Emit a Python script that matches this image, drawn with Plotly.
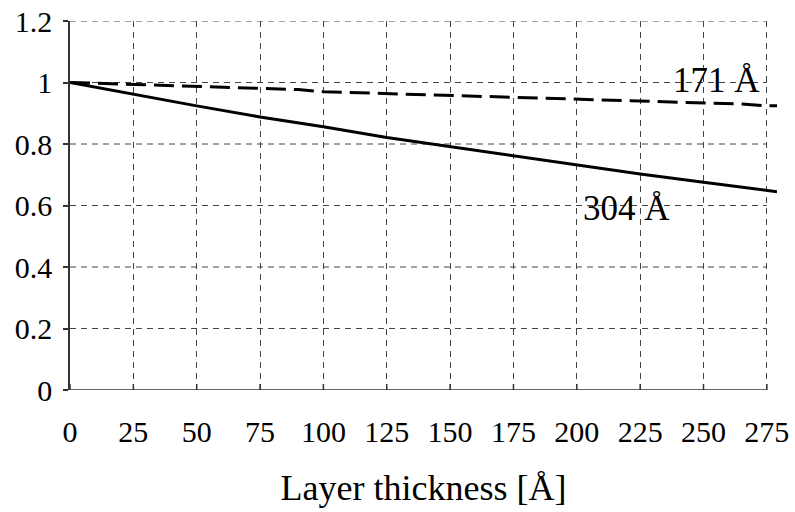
import plotly.graph_objects as go

# Data
x_304 = [0, 25, 50, 75, 100, 125, 150, 175, 200, 225, 250, 275, 279]
y_304 = [1.0, 0.961, 0.924, 0.888, 0.856, 0.821, 0.7915, 0.760, 0.731, 0.7026, 0.6755, 0.649, 0.645]

x_171 = [0, 25, 50, 75, 90, 100, 125, 150, 175, 200, 225, 250, 265, 275, 279]
y_171 = [1.0, 0.994, 0.989, 0.982, 0.977, 0.970, 0.964, 0.959, 0.951, 0.946, 0.940, 0.933, 0.930, 0.924, 0.924]

x_ticks = [0, 25, 50, 75, 100, 125, 150, 175, 200, 225, 250, 275]
y_ticks = [0, 0.2, 0.4, 0.6, 0.8, 1.0, 1.2]
y_ticktext = ["0", "0.2", "0.4", "0.6", "0.8", "1", "1.2"]

labels = [("171 Å", 255.2, 1.006), ("304 Å", 219.7, 0.59)]

FONT = "Liberation Serif"
GRID = "#444444"

fig = go.Figure()
fig.add_trace(go.Scatter(x=x_304, y=y_304, mode="lines",
                         line=dict(color="black", width=3), showlegend=False))
fig.add_trace(go.Scatter(x=x_171, y=y_171, mode="lines",
                         line=dict(color="black", width=3, dash="20px,8px"), showlegend=False))

shapes = []
for yv in y_ticks[1:]:
    shapes.append(dict(type="line", xref="x", yref="y", x0=0, x1=x_ticks[-1], y0=yv, y1=yv,
                       line=dict(color=GRID, width=1, dash="6px,5px"), layer="below"))
shapes.append(dict(type="line", xref="x", yref="y", x0=0, x1=x_ticks[-1], y0=0, y1=0,
                   line=dict(color="#333333", width=1.5)))
for xv in x_ticks:
    shapes.append(dict(type="line", xref="x", yref="y", xsizemode="scaled", ysizemode="pixel",
                       yanchor=0, x0=xv, x1=xv, y0=-6, y1=6,
                       line=dict(color="#333333", width=1.5)))

annotations = [dict(x=lx, y=ly, xref="x", yref="y", text=t, showarrow=False,
                    font=dict(family=FONT, size=35, color="black"),
                    xanchor="center", yanchor="middle") for t, lx, ly in labels]

fig.update_layout(
    width=795, height=512,
    margin=dict(l=70, r=17.5, t=21.3, b=122.3),
    paper_bgcolor="white", plot_bgcolor="white",
    font=dict(family=FONT, color="black", size=30),
    shapes=shapes, annotations=annotations,
    xaxis=dict(range=[0, 279], tickvals=x_ticks, ticks="", automargin=False,
               showgrid=True, gridcolor=GRID, gridwidth=1, griddash="6px,5px",
               showline=False, zeroline=False,
               tickfont=dict(family=FONT, size=30, color="black"),
               ticklabelstandoff=21,
               title=dict(text="Layer thickness [Å]", font=dict(family=FONT, size=36, color="black"),
                          standoff=27)),
    yaxis=dict(range=[0, 1.2], tickvals=y_ticks, ticktext=y_ticktext, automargin=False,
               ticks="outside", ticklen=5, tickcolor="#333333", tickwidth=1.5,
               showgrid=False, zeroline=False,
               showline=True, linecolor="#333333", linewidth=1.5,
               tickfont=dict(family=FONT, size=30, color="black"),
               ticklabelstandoff=5),
)

fig.write_html("out.html")
